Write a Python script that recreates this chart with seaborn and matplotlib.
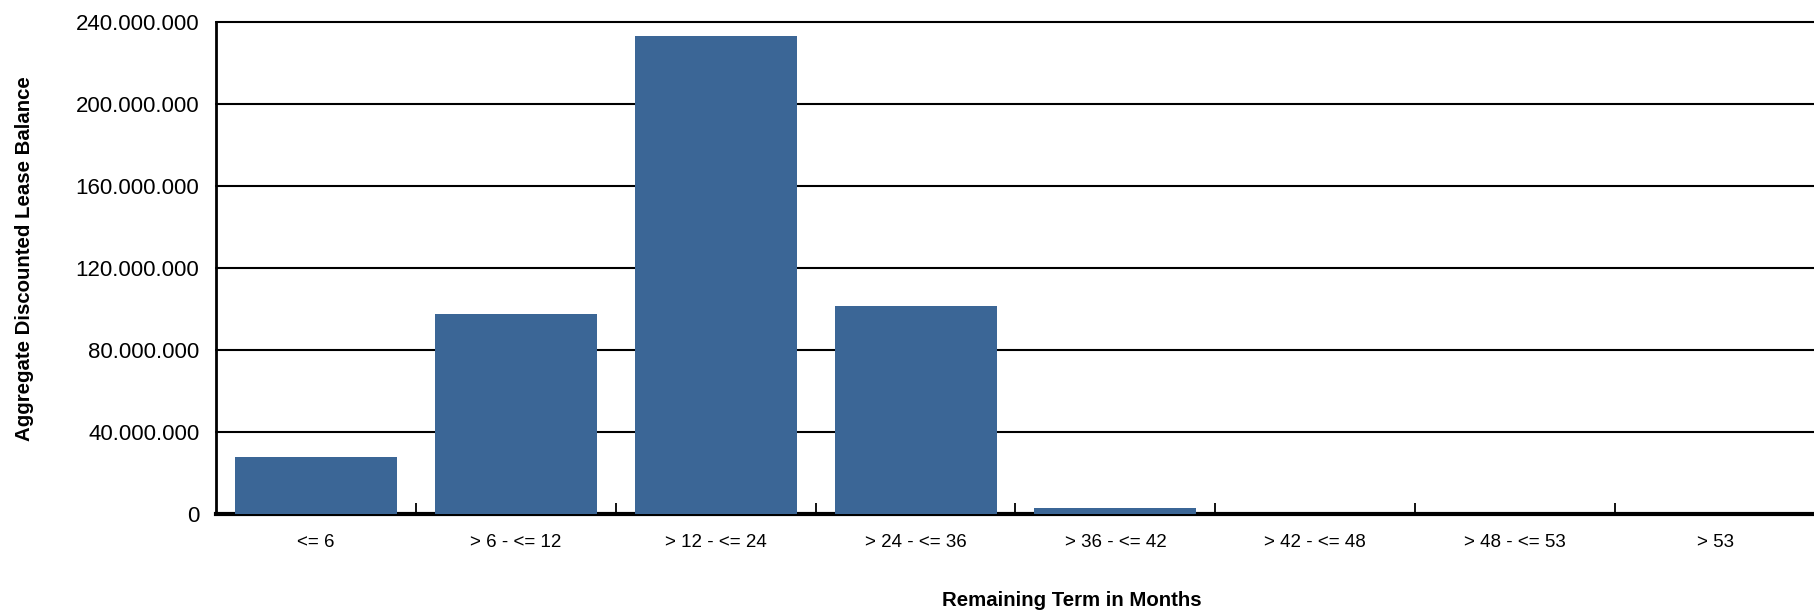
import matplotlib
matplotlib.use("Agg")
import matplotlib.pyplot as plt
import matplotlib.ticker as mticker
from matplotlib import font_manager
import pandas as pd
import seaborn as sns

term_buckets = ["<= 6", "> 6 - <= 12", "> 12 - <= 24", "> 24 - <= 36",
                "> 36 - <= 42", "> 42 - <= 48", "> 48 - <= 53", "> 53"]
lease_balance = [27_700_000, 97_700_000, 233_200_000, 101_600_000,
                 2_900_000, 0, 0, 0]
y_ticks = [0, 40_000_000, 80_000_000, 120_000_000, 160_000_000,
           200_000_000, 240_000_000]

df = pd.DataFrame({"bucket": term_buckets, "balance": lease_balance})

sns.set_theme(style="white")
plt.rcParams["font.family"] = ["Liberation Sans", "DejaVu Sans"]
for key in ["text.color", "axes.labelcolor", "xtick.color", "ytick.color"]:
    plt.rcParams[key] = "black"

# axis titles in the reference use a narrow bold face
installed = {f.name for f in font_manager.fontManager.ttflist}
if "Liberation Sans Narrow" in installed:
    label_font = dict(family=["Liberation Sans Narrow", "DejaVu Sans"],
                      fontweight="bold", fontsize=17)
else:
    label_font = dict(family=["Liberation Sans", "DejaVu Sans"],
                      fontweight="bold", fontsize=14.7)

fig = plt.figure(figsize=(18.15, 6.1), dpi=100)
ax = fig.add_axes([0.119, 0.157, 0.881, 0.807])

sns.barplot(data=df, x="bucket", y="balance", color="#3b6696",
            saturation=1, width=0.81, linewidth=0, ax=ax, zorder=3)

ax.set_xlim(-0.5, 7.5)
ax.set_ylim(0, 240_000_000)
ax.set_yticks(y_ticks)
ax.yaxis.set_major_formatter(
    mticker.FuncFormatter(lambda v, _: f"{v:,.0f}".replace(",", ".")))
ax.yaxis.grid(True, color="black", linewidth=1.5, zorder=0)
ax.set_axisbelow(True)
for gl in ax.get_ygridlines():
    gl.set_clip_on(False)

ax.xaxis.set_minor_locator(mticker.FixedLocator([i + 0.5 for i in range(7)]))
ax.tick_params(axis="x", which="major", length=0, pad=14, labelsize=13.5)
ax.tick_params(axis="x", which="minor", direction="in", length=8, width=1.3,
               color="black", bottom=True)
ax.tick_params(axis="y", length=0, pad=12, labelsize=16)

for side in ["top", "right"]:
    ax.spines[side].set_visible(False)
ax.spines["left"].set_color("black")
ax.spines["left"].set_linewidth(2)
ax.spines["bottom"].set_color("black")
ax.spines["bottom"].set_linewidth(3)

ax.set_xlabel("Remaining Term in Months", labelpad=0, **label_font)
ax.xaxis.set_label_coords(0.535, -0.155)
ax.set_ylabel("Aggregate Discounted Lease Balance", **label_font)
ax.yaxis.set_label_coords(-0.114, 0.52)

fig.savefig("out.png", dpi=100)
